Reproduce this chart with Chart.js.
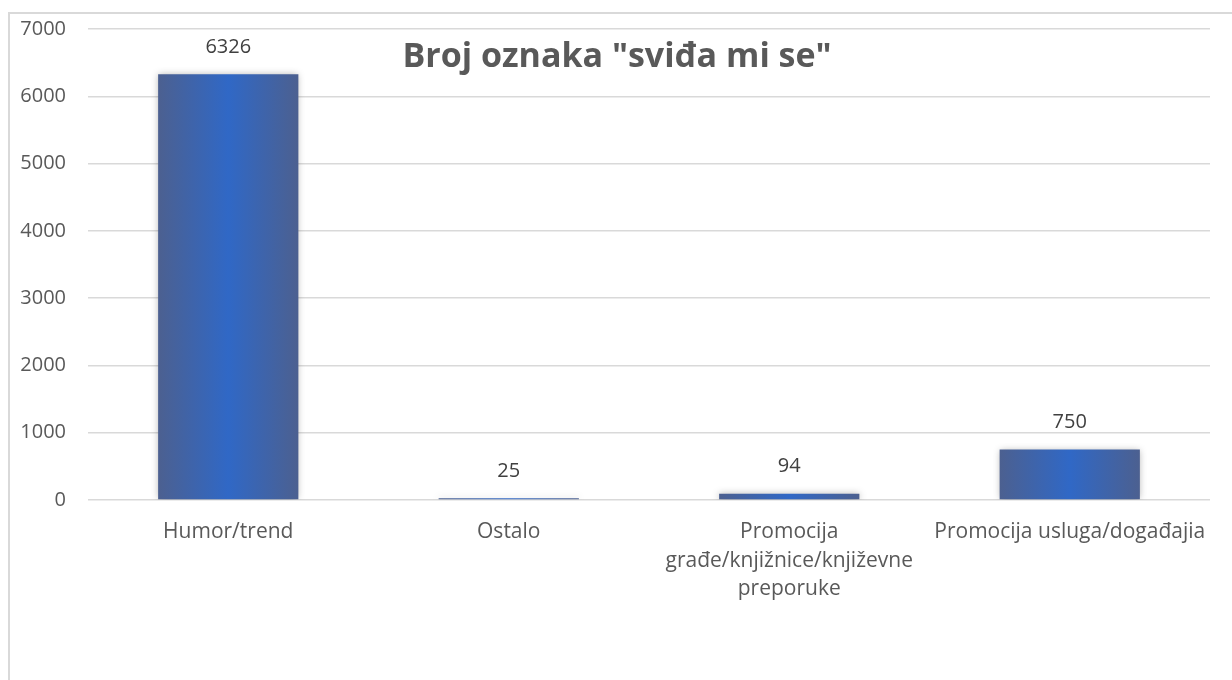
<!DOCTYPE html>
<html>
<head>
<meta charset="utf-8">
<script src="https://cdn.jsdelivr.net/npm/chart.js@4/dist/chart.umd.min.js"></script>
<style>
  html, body { margin: 0; padding: 0; background: #fff; }
  #wrap { width: 1232px; height: 680px; }
</style>
</head>
<body>
<div id="wrap"><canvas id="ctx"></canvas></div>
<script>
const kategorije = [
  "Humor/trend",
  "Ostalo",
  ["Promocija", "građe/knjižnice/književne", "preporuke"],
  "Promocija usluga/događajia"
];
const svidjanja = [6326, 25, 94, 750];
const naslov = 'Broj oznaka "sviđa mi se"';
const yMax = 7000;
const yKorak = 1000;

const FONT = "'Open Sans', 'Noto Sans', sans-serif";

// gradijent po stupcu: tamniji rubovi, svjetlija sredina
const bojaStupca = (c) => {
  const chart = c.chart;
  const x = chart.scales.x;
  if (!x || c.dataIndex === undefined) return "#3a64b0";
  const cx = x.getPixelForValue(c.dataIndex);
  const w = (x.width / kategorije.length) * 0.5;
  if (!isFinite(cx) || !isFinite(w) || w <= 0) return "#3a64b0";
  const g = chart.ctx.createLinearGradient(cx - w / 2, 0, cx + w / 2, 0);
  g.addColorStop(0, "#4c6090");
  g.addColorStop(0.5, "#3068c6");
  g.addColorStop(1, "#4c6090");
  return g;
};

const okvir = {
  id: "okvir",
  beforeDraw(chart) {
    const c = chart.ctx;
    c.save();
    c.strokeStyle = "#d9d9d9";
    c.lineWidth = 2;
    c.beginPath();
    c.moveTo(9, 680);
    c.lineTo(9, 13);
    c.lineTo(1232, 13);
    c.stroke();
    c.restore();
  },
  beforeDatasetsDraw(chart) {
    chart.ctx.save();
    chart.ctx.shadowColor = "rgba(0,0,0,0.3)";
    chart.ctx.shadowBlur = 7;
  },
  afterDatasetsDraw(chart) {
    const c = chart.ctx;
    c.restore();
    c.save();
    c.font = "20px " + FONT;
    c.fillStyle = "#404040";
    c.textAlign = "center";
    c.textBaseline = "middle";
    chart.getDatasetMeta(0).data.forEach((bar, i) => {
      c.fillText(String(svidjanja[i]), bar.x, bar.y - 27);
    });
    c.font = "bold 34px " + FONT;
    c.fillStyle = "#595959";
    c.fillText(naslov, 617, 57);
    c.restore();
  }
};

const pintarGrafica = () => {
  new Chart(document.getElementById("ctx"), {
    type: "bar",
    data: {
      labels: kategorije,
      datasets: [{
        data: svidjanja,
        backgroundColor: bojaStupca,
        borderWidth: 0,
        categoryPercentage: 0.5,
        barPercentage: 1
      }]
    },
    options: {
      responsive: true,
      maintainAspectRatio: false,
      animation: false,
      layout: { padding: { top: 29, right: 22, left: 10, bottom: 0 } },
      plugins: {
        legend: { display: false },
        tooltip: { enabled: false }
      },
      scales: {
        x: {
          grid: { display: false },
          border: { display: false },
          ticks: {
            color: "#595959",
            font: { family: FONT, size: 21, lineHeight: 1.35 },
            padding: 10,
            maxRotation: 0,
            autoSkip: false
          },
          afterFit: (s) => { s.height = 180; }
        },
        y: {
          min: 0,
          max: yMax,
          grid: { color: "#d9d9d9", lineWidth: 1.5, drawTicks: false },
          border: { display: false },
          ticks: {
            stepSize: yKorak,
            color: "#595959",
            font: { family: FONT, size: 20 },
            padding: 22,
            callback: (v) => String(v)
          },
          afterFit: (s) => {
            s.width = 78;
            s.paddingTop = 0;
            s.paddingBottom = 0;
          }
        }
      }
    },
    plugins: [okvir]
  });
};

window.addEventListener("load", pintarGrafica);
</script>
</body>
</html>
